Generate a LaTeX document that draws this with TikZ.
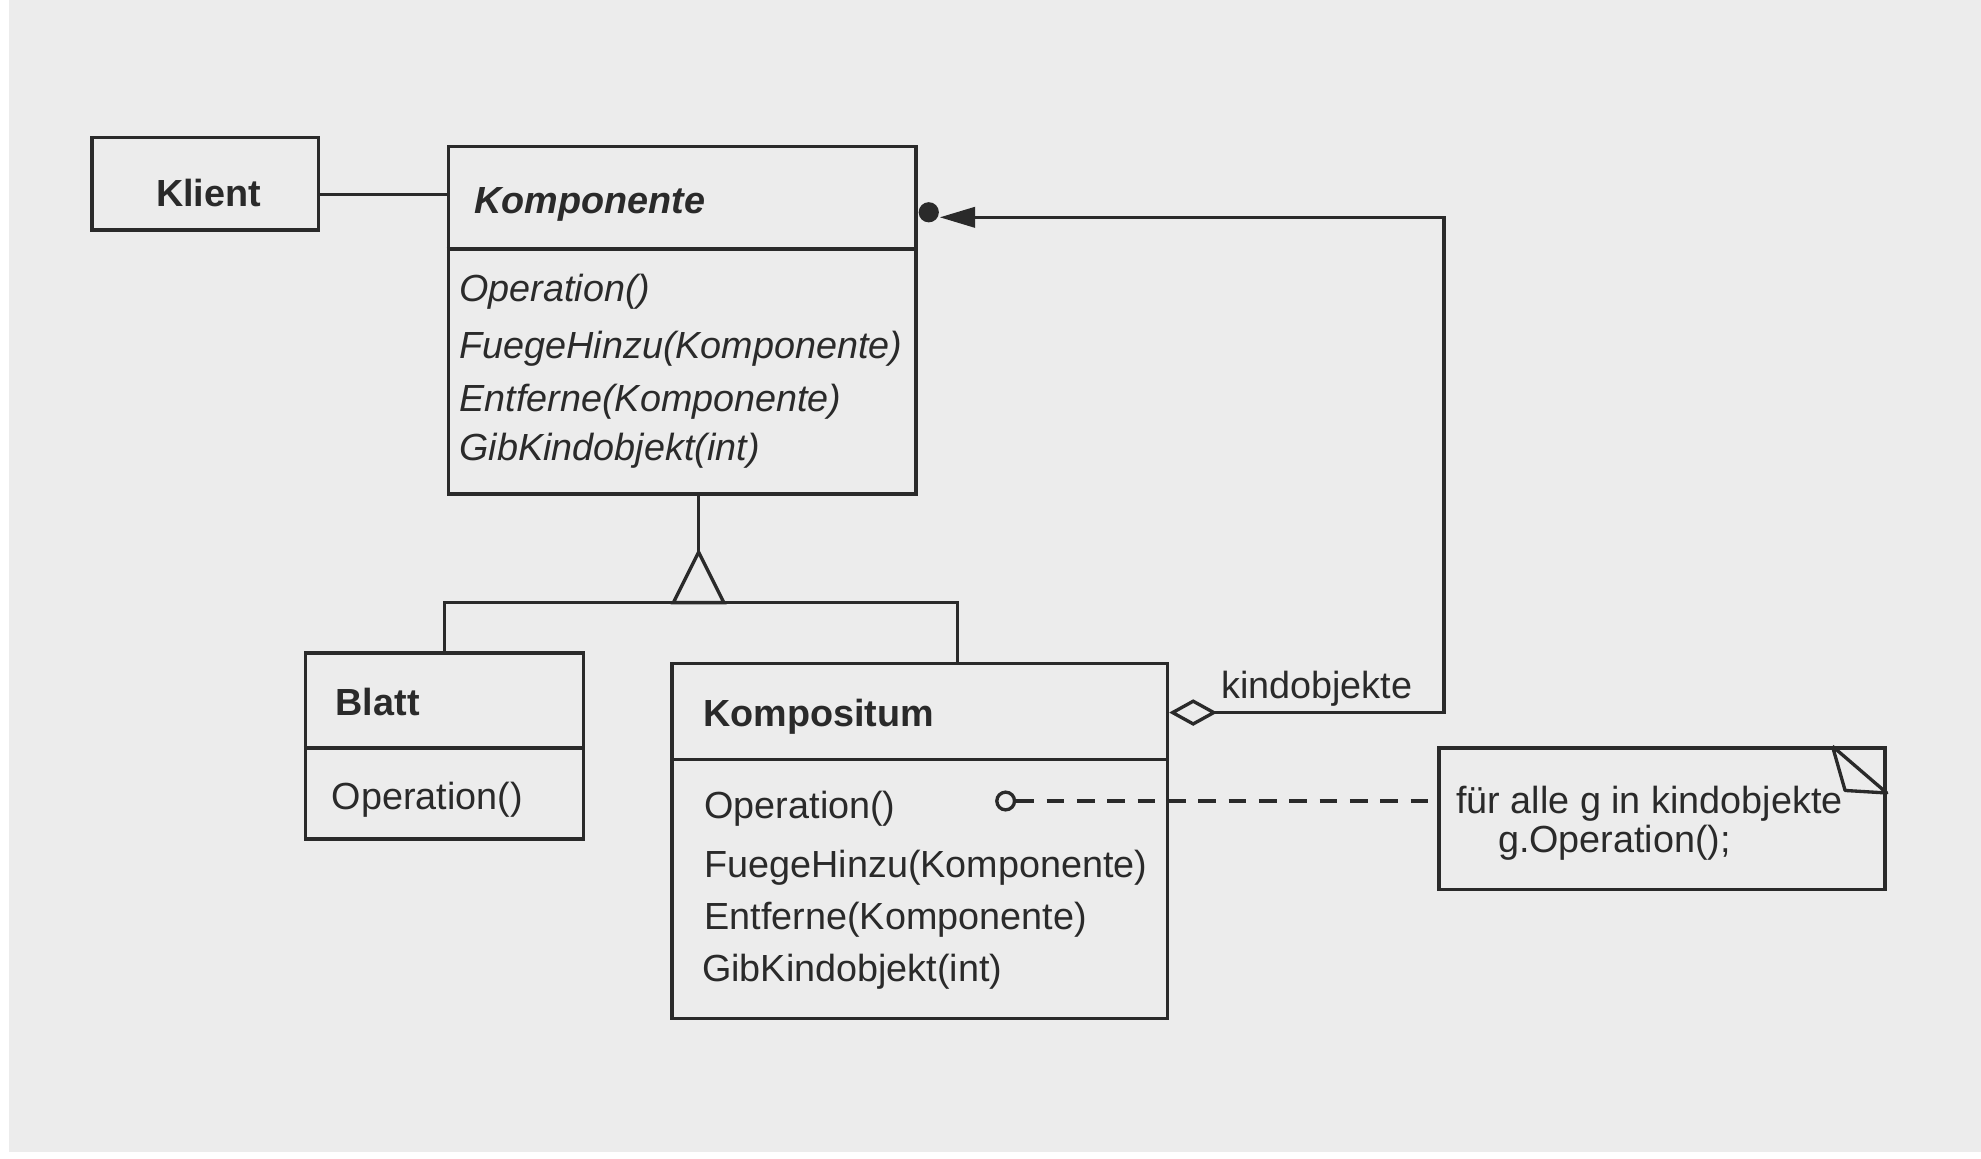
\documentclass[tikz,border=0pt]{standalone}
\usepackage{fontspec}
\setmainfont{Liberation Sans}
\usetikzlibrary{arrows.meta,calc}
\definecolor{paper}{HTML}{ECECEC}
\definecolor{ink}{HTML}{2A2A2A}
\begin{document}
\begin{tikzpicture}[x=0.01cm,y=-0.01cm,
  line/.style={draw=ink,line width=0.75pt},
  box/.style={line,rectangle,inner sep=0pt},
  lbl/.style={text=ink,inner sep=0pt,anchor=west,font=\fontsize{8.5}{10}\selectfont},
  ttl/.style={lbl,font=\fontsize{8.5}{10}\selectfont\bfseries},
  abstr/.style={lbl,font=\fontsize{8.5}{10}\selectfont\bfseries\itshape},
  absop/.style={lbl,font=\fontsize{8.5}{10}\selectfont\itshape},
  joint/.style={circle,fill=ink,inner sep=0pt,minimum size=0.16cm},
  hook/.style={circle,line,fill=paper,inner sep=0pt,minimum size=0.14cm}
]
\useasboundingbox (0,0) rectangle (1568,917);
\fill[white] (0,0) rectangle (1568,917);
\fill[paper] (7,0) rectangle (1568,912);

% class boxes
\node[box,minimum width=1.79cm,minimum height=0.73cm] (klient) at (162.5,145.5) {};
\node[box,minimum width=3.70cm,minimum height=2.75cm] (komp) at (540,253.5) {};
\node[box,minimum width=2.20cm,minimum height=1.47cm] (blatt) at (352,590.5) {};
\node[box,minimum width=3.92cm,minimum height=2.81cm] (kompos) at (728,665.5) {};
\node[box,minimum width=3.53cm,minimum height=1.12cm] (note) at (1315.5,648) {};

% compartment separators
\draw[line] (komp.west |- 0,197) -- (komp.east |- 0,197);
\draw[line] (blatt.west |- 0,592) -- (blatt.east |- 0,592);
\draw[line] (kompos.west |- 0,601) -- (kompos.east |- 0,601);

% folded corner of the note
\coordinate (ea) at ($(note.north east)+(-43,0)$);
\coordinate (eb) at ($(note.north east)+(-33,35)$);
\coordinate (ec) at ($(note.north east)+(0,37)$);
\draw[line,line join=round] (ea) -- (ec) -- (eb) .. controls ($(ea)+(4,14)$) .. (ea);

% texts
\node[lbl,font=\fontsize{8.5}{10}\selectfont\bfseries,anchor=center] (tklient) at (165,153) {Klient};
\node[abstr] (tkomp) at (375,162) {Komponente};
\node[absop] (k1) at (363,231) {Operation()};
\node[absop] (k2) at (363,276) {FuegeHinzu(Komponente)};
\node[absop] (k3) at (363,318) {Entferne(Komponente)};
\node[absop] (k4) at (363,357) {GibKindobjekt(int)};
\node[ttl] (tblatt) at (265,556) {Blatt};
\node[lbl] (b1) at (262,633) {Operation()};
\node[ttl] (tkompos) at (556,567) {Kompositum};
\node[lbl] (c1) at (557,640) {Operation()};
\node[lbl] (c2) at (557,687) {FuegeHinzu(Komponente)};
\node[lbl] (c3) at (557,728) {Entferne(Komponente)};
\node[lbl] (c4) at (555,769) {GibKindobjekt(int)};
\node[lbl] (n1) at (1152,636) {für alle g in kindobjekte};
\node[lbl] (n2) at (1185,667) {g.Operation();};
\node[lbl] (role) at (966,545) {kindobjekte};

% association Klient -- Komponente
\draw[line] (klient.east |- 0,154) -- (komp.west |- 0,154);

% generalization
\coordinate (apex) at (553,437);
\coordinate (bar) at (553,477);
\draw[line] (komp.south -| apex) -- (apex);
\draw[line,line join=miter] (apex) -- ($(bar)+(-20,0)$) -- ($(bar)+(20,0)$) -- cycle;
\draw[line] (blatt.north) |- (bar) -| ($(kompos.north)+(30,0)$);

% aggregation kindobjekte
\node[joint,anchor=west] (dot) at (komp.east |- 0,168) {};
\draw[line,{Diamond[open,length=0.38cm,width=0.21cm]}-{Triangle[length=0.28cm,width=0.16cm]}]
  (kompos.east |- 0,564) -| (1143,172) -- (dot.east |- 0,172);

% note link
\node[hook] (ophook) at (796,634) {};
\draw[line,dash pattern=on 0.14cm off 0.10cm] (ophook.east) -- (note.west |- ophook);
\end{tikzpicture}
\end{document}
